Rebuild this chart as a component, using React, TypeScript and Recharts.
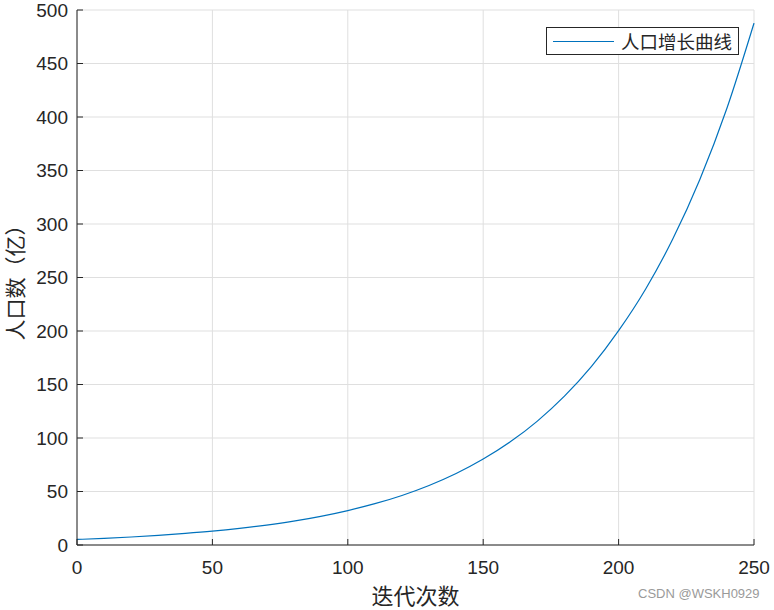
import { LineChart, Line, XAxis, YAxis, CartesianGrid, Label } from 'recharts'

// iteration steps and population (亿)
const iterations = [
  0, 10, 20, 30, 40, 50, 60, 70, 80, 90, 100, 110, 120, 130, 140, 150, 160, 170, 180, 190, 200, 210, 220,
  230, 240, 250
]
const population = [
  5.2, 6.2, 7.5, 9.0, 10.8, 12.9, 15.5, 18.6, 22.3, 26.8, 32.2, 38.6, 46.3, 55.6, 66.8, 80.3, 96.4, 115.8,
  139.1, 166.9, 200.3, 239.3, 285.9, 341.6, 408.2, 487.7
]
const xTicks = [0, 50, 100, 150, 200, 250]
const yTicks = [0, 50, 100, 150, 200, 250, 300, 350, 400, 450, 500]

const seriesName = '人口增长曲线'
const xTitle = '迭代次数'
const yTitle = '人口数（亿）'
const watermark = 'CSDN @WSKH0929'

const data = iterations.map((t, i) => ({ t, p: population[i] }))

const INK = '#262626'
const LINE_BLUE = '#0072BD'
const NUM_FONT = '"Liberation Sans", Arial, sans-serif'
const CJK_FONT = '"Noto Sans CJK SC", sans-serif'
const TICK_LEN = 6

function LeftTick(props: any) {
  const { x, y, payload } = props
  const ax = x + 9
  return (
    <g>
      <line x1={ax} x2={ax + TICK_LEN} y1={y} y2={y} stroke={INK} />
      <text x={x} y={y} dy="0.355em" textAnchor="end" fontSize={19} fontFamily={NUM_FONT} fill={INK}>
        {payload.value}
      </text>
    </g>
  )
}

function BottomTick(props: any) {
  const { x, y, payload } = props
  const ay = y - 16
  return (
    <g>
      <line x1={x} x2={x} y1={ay} y2={ay - TICK_LEN} stroke={INK} />
      <text x={x} y={y} dy="0.71em" textAnchor="middle" fontSize={19} fontFamily={NUM_FONT} fill={INK}>
        {payload.value}
      </text>
    </g>
  )
}

function RightTick(props: any) {
  const { x, y } = props
  return <line x1={x} x2={x - TICK_LEN} y1={y} y2={y} stroke={INK} />
}

function TopTick(props: any) {
  const { x, y } = props
  return <line x1={x} x2={x} y1={y} y2={y + TICK_LEN} stroke={INK} />
}

export default function App() {
  return (
    <div style={{ position: 'absolute', left: 0, top: 0, width: 774, height: 610, background: '#fff' }}>
      <LineChart width={774} height={610} data={data} margin={{ top: 10, right: 20, left: 0, bottom: 0 }}>
        <CartesianGrid stroke="#dfdfdf" />
        <XAxis
          dataKey="t"
          type="number"
          domain={[0, 250]}
          ticks={xTicks}
          height={65}
          tickSize={0}
          tickMargin={16}
          tick={<BottomTick />}
          axisLine={{ stroke: INK }}
        >
          <Label
            content={({ viewBox }: any) => (
              <text
                x={viewBox.x + viewBox.width / 2}
                y={viewBox.y + viewBox.height - 6}
                textAnchor="middle"
                fontSize={22}
                fontFamily={CJK_FONT}
                fill={INK}
              >
                {xTitle}
              </text>
            )}
          />
        </XAxis>
        <XAxis
          xAxisId="top"
          orientation="top"
          type="number"
          domain={[0, 250]}
          ticks={xTicks}
          height={0}
          tickSize={0}
          tickMargin={0}
          tick={<TopTick />}
          axisLine={{ stroke: INK }}
        />
        <YAxis
          type="number"
          domain={[0, 500]}
          ticks={yTicks}
          width={77}
          tickSize={0}
          tickMargin={9}
          tick={<LeftTick />}
          axisLine={{ stroke: INK }}
        >
          <Label
            content={({ viewBox }: any) => {
              const cx = 14
              const cy = viewBox.y + viewBox.height / 2
              return (
                <text
                  x={cx}
                  y={cy}
                  textAnchor="middle"
                  dominantBaseline="central"
                  transform={`rotate(-90, ${cx}, ${cy})`}
                  fontSize={21}
                  fontFamily={CJK_FONT}
                  fill={INK}
                >
                  {yTitle}
                </text>
              )
            }}
          />
        </YAxis>
        <YAxis
          yAxisId="right"
          orientation="right"
          type="number"
          domain={[0, 500]}
          ticks={yTicks}
          width={0}
          tickSize={0}
          tickMargin={0}
          tick={<RightTick />}
          axisLine={{ stroke: INK }}
        />
        <Line
          dataKey="p"
          name={seriesName}
          type="monotone"
          stroke={LINE_BLUE}
          strokeWidth={1.2}
          dot={false}
          isAnimationActive={false}
        />
      </LineChart>
      <div
        style={{
          position: 'absolute',
          left: 546,
          top: 27,
          width: 191,
          height: 26,
          border: `1px solid ${INK}`,
          background: '#fff',
          display: 'flex',
          alignItems: 'center'
        }}
      >
        <div style={{ marginLeft: 6, width: 61, height: 0, borderTop: `1.2px solid ${LINE_BLUE}` }} />
        <span
          style={{ marginLeft: 7, fontSize: 18.5, fontFamily: CJK_FONT, color: INK, lineHeight: 1, whiteSpace: 'nowrap' }}
        >
          {seriesName}
        </span>
      </div>
      <div
        style={{
          position: 'absolute',
          left: 638,
          top: 586,
          fontSize: 13,
          fontFamily: NUM_FONT,
          color: '#9a9a9a',
          whiteSpace: 'nowrap'
        }}
      >
        {watermark}
      </div>
    </div>
  )
}
